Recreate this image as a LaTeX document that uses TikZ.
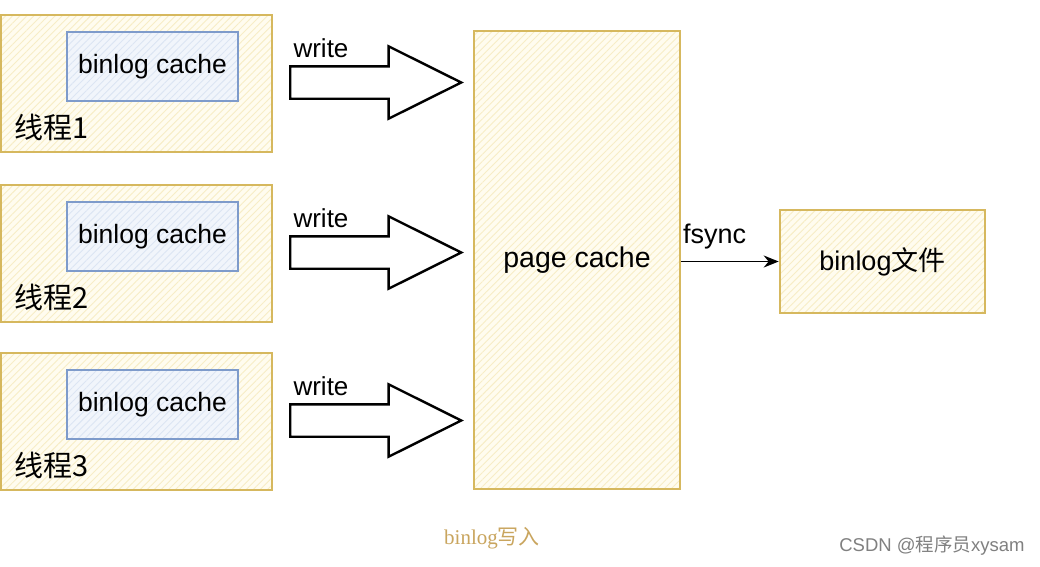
\documentclass[tikz,border=0pt]{standalone}
\usepackage{fontspec}
\setmainfont{Liberation Sans}
\newfontfamily\cjk{Noto Sans CJK SC}
\newfontfamily\capser{Liberation Serif}
\usetikzlibrary{patterns.meta,shapes.arrows,arrows.meta}
\definecolor{ylborder}{HTML}{D6B85E}
\definecolor{ylfill}{HTML}{FFFCEF}
\definecolor{ylhatch}{HTML}{F7EDC6}
\definecolor{blborder}{HTML}{7E9BCB}
\definecolor{blfill}{HTML}{F1F5FB}
\definecolor{blhatch}{HTML}{DCE5F3}
\definecolor{capcol}{HTML}{C9A55E}
\definecolor{wmcol}{HTML}{808080}
\tikzset{
  ybox/.style={draw=ylborder, line width=2.6pt, preaction={fill=ylfill},
    pattern={Lines[angle=45,distance=5pt,line width=0.9pt]}, pattern color=ylhatch,
    inner sep=0pt, font=\fontsize{27}{32}\selectfont},
  bbox/.style={draw=blborder, line width=2pt, preaction={fill=blfill},
    pattern={Lines[angle=45,distance=5pt,line width=0.9pt]}, pattern color=blhatch,
    minimum width=171pt, minimum height=69pt, inner sep=0pt,
    font=\fontsize{26.5}{32}\selectfont},
  lbl/.style={inner sep=0pt, font=\fontsize{26}{30}\selectfont},
  cjklbl/.style={inner sep=0pt, font=\cjk\fontsize{29}{32}\selectfont},
  blockarrow/.style={single arrow, draw=black, fill=white, line width=2.4pt,
    minimum height=171pt, minimum width=70pt, inner sep=15pt,
    single arrow head extend=20pt, single arrow tip angle=53},
}
\begin{document}
\begin{tikzpicture}[x=1pt,y=-1pt]
\useasboundingbox[fill=white] (0,0) rectangle (1040,566);

\foreach \i/\dy in {1/0,2/170,3/338}{
  \node[ybox, minimum width=271pt, minimum height=137pt] (t\i) at (136.5,83.5+\dy) {};
  \node[bbox] (c\i) at (152.5,66.5+\dy) {binlog cache};
  \node[cjklbl, anchor=west] (n\i) at (14,127+\dy) {线程\i};
  \node[blockarrow, anchor=west] (a\i) at (289,82.5+\dy) {};
  \node[lbl] (w\i) at (321,48+\dy) {write};
}

\node[ybox, minimum width=206pt, minimum height=458pt, font=\fontsize{28.5}{32}\selectfont] (page) at (577,260) {page cache};
\node[ybox, minimum width=205pt, minimum height=103pt] (file) at (882.5,261.5) {binlog{\cjk 文件}};

\draw[line width=1.6pt, -{Stealth[length=15pt,width=12pt]}] (file.west -| page.east) -- (file.west)
  node[lbl, pos=0, anchor=south west, xshift=1pt, yshift=12pt, font=\fontsize{27}{30}\selectfont] (fs) {fsync};

\node[inner sep=0pt, text=capcol, font=\capser\fontsize{21}{24}\selectfont] (cap) at (492,538) {binlog{\cjk 写入}};
\node[inner sep=0pt, text=wmcol, font=\fontsize{18.5}{22}\selectfont] (wm) at (932,546) {CSDN @{\cjk 程序员}xysam};
\end{tikzpicture}
\end{document}
